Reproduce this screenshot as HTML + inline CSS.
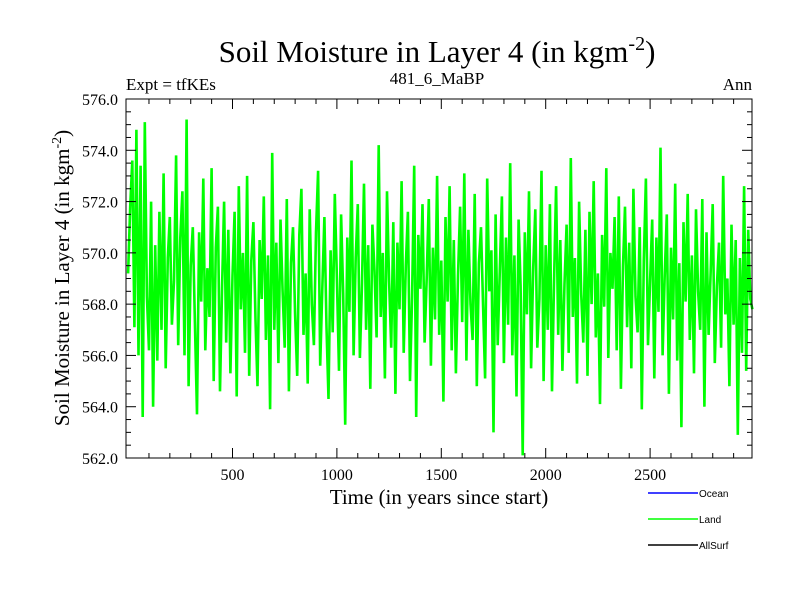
<!DOCTYPE html>
<html><head><meta charset="utf-8">
<style>
body{margin:0;background:#fff;}
svg text{font-family:"Liberation Serif",serif;fill:#000;}
</style></head>
<body>
<svg id="chart" width="800" height="600" xmlns="http://www.w3.org/2000/svg">
<text x="437" y="62" font-size="31" text-anchor="middle">Soil Moisture in Layer 4 (in kgm<tspan dy="-12" font-size="20">-2</tspan><tspan dy="12">)</tspan></text>
<text x="126" y="90" font-size="17">Expt = tfKEs</text>
<text x="437" y="84" font-size="17" text-anchor="middle">481_6_MaBP</text>
<text x="752" y="90" font-size="17" text-anchor="end">Ann</text>
<g id="plot"></g>
<text x="439" y="504" font-size="21" text-anchor="middle">Time (in years since start)</text>
<text transform="translate(69,278) rotate(-90)" font-size="21" text-anchor="middle">Soil Moisture in Layer 4 (in kgm<tspan dy="-8" font-size="14">-2</tspan><tspan dy="8">)</tspan></text>
<g>
 <line x1="648" y1="493" x2="698" y2="493" stroke="#0000ff" stroke-width="1.5"/>
 <text x="699" y="497" font-size="10" style="font-family:'Liberation Sans',sans-serif">Ocean</text>
 <line x1="648" y1="519" x2="698" y2="519" stroke="#00ff00" stroke-width="1.5"/>
 <text x="699" y="523" font-size="10" style="font-family:'Liberation Sans',sans-serif">Land</text>
 <line x1="648" y1="545" x2="698" y2="545" stroke="#000" stroke-width="1.5"/>
 <text x="699" y="549" font-size="10" style="font-family:'Liberation Sans',sans-serif">AllSurf</text>
</g>
</svg>
<script>
const yearStep = 10;
const landValues = [
569.2,571.8,573.6,567.1,574.8,566.0,573.4,563.6,575.1,568.3,
566.2,572.0,564.0,570.3,565.8,571.6,567.0,573.1,565.5,569.8,
571.4,567.2,568.9,573.8,566.4,570.6,572.4,566.0,575.2,564.8,
569.5,571.0,567.3,563.7,570.8,568.1,572.9,566.2,569.4,567.5,
573.3,565.0,570.2,571.8,564.6,568.7,572.0,566.5,570.9,565.3,
569.1,571.6,564.4,572.6,567.8,570.0,566.1,573.0,565.2,569.7,
571.2,567.4,564.8,570.5,568.2,572.2,566.6,569.9,563.9,573.9,
567.0,570.4,565.7,571.3,568.5,566.3,572.1,564.6,569.6,571.0,
567.6,565.2,570.7,572.5,566.8,569.2,564.9,571.7,568.0,566.4,
570.8,573.2,565.6,568.6,571.4,567.1,564.3,570.1,566.9,572.3,
569.0,565.4,571.5,568.4,563.3,570.6,567.7,573.6,566.0,569.8,
571.9,565.9,568.8,572.7,567.0,570.3,564.7,571.1,569.3,566.7,
574.2,567.5,570.0,565.1,572.4,568.9,566.3,571.2,564.5,570.4,
567.8,572.8,566.1,569.5,571.6,565.0,568.3,573.4,563.6,570.7,
568.6,571.9,566.5,569.0,572.1,565.6,570.2,567.4,573.0,566.8,
569.7,564.2,571.4,568.1,572.6,566.2,570.5,565.3,569.1,571.8,
567.3,573.1,565.8,570.9,568.0,566.6,572.3,564.8,569.6,571.0,
567.9,565.1,572.9,568.5,570.1,563.0,571.5,566.4,569.3,572.2,
565.7,570.6,567.2,573.5,566.0,569.9,564.4,571.3,568.7,562.1,
570.8,567.6,572.4,565.5,569.4,571.7,566.3,568.2,573.2,565.0,
570.3,567.0,571.9,564.6,569.0,572.6,566.8,570.5,565.4,568.8,
571.1,566.1,573.7,567.5,569.8,564.9,572.0,568.4,566.5,570.9,
565.2,571.6,568.0,572.8,566.7,569.2,564.1,570.7,567.9,573.3,
565.9,570.0,568.6,571.4,566.2,572.2,564.7,569.5,571.8,567.1,
570.4,565.5,572.5,568.3,566.9,571.0,563.9,569.7,572.9,566.4,
568.9,571.3,565.1,570.6,567.7,574.1,566.0,569.1,571.5,564.5,
570.2,567.4,572.7,565.8,569.6,563.2,571.2,568.1,572.3,566.6,
569.9,565.3,571.7,568.5,567.0,572.1,564.0,570.8,566.8,569.3,
571.9,565.7,568.7,570.4,566.3,573.0,567.6,569.0,564.8,571.1,
567.2,570.5,562.9,569.8,566.1,572.6,565.4,570.9,568.2,567.8
];
const xTickValues = [500,1000,1500,2000,2500];
const xTickLabels = ["500","1000","1500","2000","2500"];
const yTickValues = [562,564,566,568,570,572,574,576];
const yTickLabels = ["562.0","564.0","566.0","568.0","570.0","572.0","574.0","576.0"];

const L=126,R=752,T=99,B=458, X0=-10, X1=2988, Y0=562, Y1=576;
const sx=v=>L+(v-X0)/(X1-X0)*(R-L);
const sy=v=>B-(v-Y0)/(Y1-Y0)*(B-T);
const NS="http://www.w3.org/2000/svg";
const g=document.getElementById('plot');
function mk(tag,attrs){const e=document.createElementNS(NS,tag);for(const k in attrs)e.setAttribute(k,attrs[k]);g.appendChild(e);return e;}

let d=landValues.map((v,i)=>(i?'L':'M')+sx(i*yearStep).toFixed(1)+','+sy(v).toFixed(1)).join('');
const line=mk('path',{d:d,fill:'none',stroke:'#00ff00','stroke-width':2.6,'stroke-linejoin':'miter'});



const frame=mk('rect',{x:L,y:T,width:R-L,height:B-T,fill:'none',stroke:'#000','stroke-width':1});



for(let v=100;v<X1;v+=100){
  const major=v%500===0, len=major?10:5;
  for(const [y,dir] of [[B,-1],[T,1]]){
    const t=mk('line',{x1:sx(v),x2:sx(v),y1:y,y2:y+dir*len,stroke:'#000','stroke-width':1});
    
    
  }
}
xTickValues.forEach((v,i)=>{
  const t=mk('text',{x:sx(v),y:B+22,'font-size':16,'text-anchor':'middle'});
  t.textContent=xTickLabels[i];
  
  
});
for(let v=Y0;v<=Y1;v+=0.5){
  const major=Math.abs(v%2)<1e-6, len=major?10:5;
  for(const [x,dir] of [[L,1],[R,-1]]){
    const t=mk('line',{x1:x,x2:x+dir*len,y1:sy(v),y2:sy(v),stroke:'#000','stroke-width':1});
    
    
  }
}
yTickValues.forEach((v,i)=>{
  const t=mk('text',{x:L-8,y:sy(v)+6,'font-size':16,'text-anchor':'end'});
  t.textContent=yTickLabels[i];
  
  
});
</script>
</body></html>
